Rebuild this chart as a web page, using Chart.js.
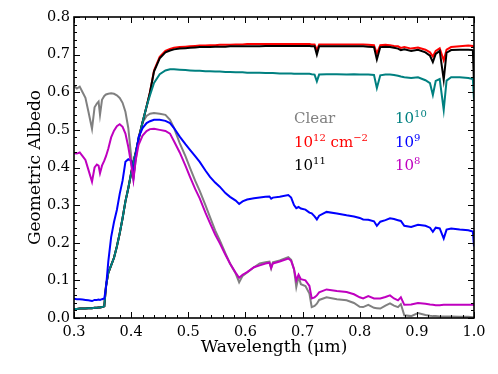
<!DOCTYPE html>
<html>
<head>
<meta charset="utf-8">
<script src="https://cdn.jsdelivr.net/npm/chart.js@4.4.1/dist/chart.umd.min.js"></script>
<style>
  html, body { margin: 0; padding: 0; background: #fff; }
</style>
</head>
<body>
<canvas id="albedoChart" width="498" height="374"></canvas>
<script>
// wavelength grid (micron), shared by all curves
const wavelength = [
  0.300, 0.305, 0.310, 0.315, 0.320, 0.325, 0.3315, 0.336, 0.340, 0.343,
  0.3455, 0.349, 0.353, 0.356, 0.360, 0.365, 0.370, 0.375, 0.380, 0.385,
  0.390, 0.395, 0.400, 0.404, 0.408, 0.413, 0.420, 0.427, 0.433, 0.440,
  0.450, 0.460, 0.468, 0.475, 0.485, 0.495, 0.503, 0.512, 0.520, 0.530,
  0.538, 0.547, 0.555, 0.565, 0.573, 0.583, 0.589, 0.595, 0.603, 0.615,
  0.625, 0.635, 0.642, 0.645, 0.648, 0.660, 0.675, 0.680, 0.685, 0.689,
  0.693, 0.697, 0.705, 0.712, 0.716, 0.721, 0.725, 0.729, 0.742, 0.760,
  0.777, 0.790, 0.800, 0.806, 0.815, 0.825, 0.830, 0.836, 0.845, 0.853,
  0.860, 0.867, 0.872, 0.878, 0.890, 0.902, 0.915, 0.923, 0.928, 0.933,
  0.940, 0.947, 0.952, 0.960, 0.975, 0.990, 0.998, 1.000
];

const albedoClear = [
  0.617, 0.610, 0.615, 0.600, 0.585, 0.550, 0.503, 0.560, 0.570, 0.575,
  0.540, 0.580, 0.590, 0.594, 0.596, 0.597, 0.596, 0.592, 0.585, 0.572,
  0.548, 0.505, 0.430, 0.372, 0.420, 0.480, 0.520, 0.537, 0.543, 0.545,
  0.543, 0.540, 0.527, 0.505, 0.465, 0.430, 0.399, 0.365, 0.338, 0.300,
  0.268, 0.233, 0.207, 0.172, 0.145, 0.118, 0.095, 0.112, 0.121, 0.135,
  0.145, 0.148, 0.150, 0.132, 0.148, 0.153, 0.162, 0.155, 0.130, 0.082,
  0.110, 0.090, 0.085, 0.065, 0.029, 0.032, 0.038, 0.048, 0.055, 0.050,
  0.047, 0.040, 0.030, 0.029, 0.035, 0.027, 0.026, 0.025, 0.033, 0.039,
  0.033, 0.029, 0.037, 0.007, 0.005, 0.013, 0.008, 0.006, 0.005, 0.005,
  0.004, 0.004, 0.004, 0.004, 0.003, 0.003, 0.002, 0.002
];

const albedo1e12 = [
  0.024, 0.024, 0.025, 0.025, 0.025, 0.026, 0.026, 0.027, 0.027, 0.028,
  0.028, 0.029, 0.031, 0.085, 0.120, 0.140, 0.160, 0.190, 0.225, 0.265,
  0.310, 0.345, 0.385, 0.415, 0.440, 0.475, 0.520, 0.562, 0.600, 0.658,
  0.694, 0.710, 0.715, 0.718, 0.720, 0.721, 0.722, 0.723, 0.724, 0.724,
  0.725, 0.725, 0.726, 0.726, 0.726, 0.727, 0.727, 0.727, 0.728, 0.728,
  0.728, 0.728, 0.728, 0.728, 0.728, 0.728, 0.728, 0.728, 0.728, 0.728,
  0.728, 0.728, 0.728, 0.728, 0.727, 0.727, 0.712, 0.727, 0.727, 0.727,
  0.727, 0.727, 0.727, 0.727, 0.726, 0.725, 0.703, 0.725, 0.726, 0.725,
  0.723, 0.722, 0.718, 0.720, 0.716, 0.719, 0.713, 0.706, 0.695, 0.710,
  0.717, 0.685, 0.713, 0.720, 0.722, 0.724, 0.723, 0.720
];

const albedo1e11 = [
  0.024, 0.024, 0.025, 0.025, 0.025, 0.026, 0.026, 0.027, 0.027, 0.028,
  0.028, 0.029, 0.031, 0.085, 0.120, 0.140, 0.160, 0.190, 0.225, 0.265,
  0.310, 0.345, 0.385, 0.415, 0.440, 0.475, 0.520, 0.562, 0.600, 0.655,
  0.690, 0.706, 0.711, 0.714, 0.716, 0.717, 0.718, 0.719, 0.720, 0.720,
  0.720, 0.721, 0.721, 0.721, 0.722, 0.722, 0.722, 0.722, 0.722, 0.722,
  0.722, 0.723, 0.723, 0.723, 0.723, 0.723, 0.723, 0.723, 0.723, 0.723,
  0.723, 0.723, 0.723, 0.723, 0.722, 0.722, 0.700, 0.722, 0.722, 0.722,
  0.722, 0.722, 0.722, 0.722, 0.721, 0.720, 0.687, 0.720, 0.721, 0.720,
  0.718, 0.716, 0.712, 0.714, 0.710, 0.713, 0.706, 0.697, 0.680, 0.702,
  0.710, 0.633, 0.705, 0.712, 0.713, 0.713, 0.712, 0.620
];

const albedo1e10 = [
  0.024, 0.024, 0.025, 0.025, 0.025, 0.026, 0.026, 0.027, 0.027, 0.028,
  0.028, 0.029, 0.031, 0.085, 0.120, 0.140, 0.160, 0.190, 0.225, 0.265,
  0.310, 0.345, 0.385, 0.415, 0.440, 0.475, 0.520, 0.562, 0.592, 0.625,
  0.648, 0.658, 0.661, 0.661, 0.660, 0.659, 0.658, 0.657, 0.657, 0.656,
  0.656, 0.655, 0.655, 0.654, 0.654, 0.653, 0.653, 0.653, 0.652, 0.652,
  0.652, 0.651, 0.651, 0.651, 0.651, 0.650, 0.650, 0.650, 0.649, 0.649,
  0.649, 0.649, 0.649, 0.649, 0.648, 0.647, 0.629, 0.647, 0.648, 0.648,
  0.647, 0.648, 0.647, 0.647, 0.647, 0.646, 0.611, 0.645, 0.647, 0.647,
  0.646, 0.644, 0.642, 0.640, 0.638, 0.640, 0.632, 0.624, 0.593, 0.630,
  0.635, 0.553, 0.631, 0.640, 0.640, 0.638, 0.635, 0.580
];

const albedo1e9 = [
  0.051, 0.050, 0.050, 0.049, 0.048, 0.047, 0.045, 0.048, 0.048, 0.049,
  0.048, 0.050, 0.052, 0.080, 0.150, 0.215, 0.255, 0.287, 0.330, 0.365,
  0.415, 0.422, 0.418, 0.375, 0.430, 0.480, 0.505, 0.518, 0.523, 0.527,
  0.527, 0.524, 0.518, 0.505, 0.482, 0.462, 0.447, 0.430, 0.415, 0.392,
  0.375, 0.360, 0.349, 0.332, 0.322, 0.312, 0.303, 0.310, 0.315, 0.318,
  0.320, 0.322, 0.323, 0.317, 0.320, 0.322, 0.327, 0.320, 0.300, 0.292,
  0.295, 0.291, 0.288, 0.280, 0.278, 0.270, 0.262, 0.272, 0.282, 0.278,
  0.273, 0.270, 0.266, 0.262, 0.261, 0.257, 0.245, 0.256, 0.260, 0.265,
  0.263, 0.260, 0.258, 0.245, 0.242, 0.248, 0.245, 0.240, 0.229, 0.240,
  0.238, 0.211, 0.235, 0.238, 0.235, 0.233, 0.230, 0.190
];

const albedo1e8 = [
  0.438, 0.437, 0.440, 0.430, 0.420, 0.395, 0.362, 0.400, 0.408, 0.405,
  0.385, 0.405, 0.418, 0.430, 0.450, 0.480, 0.498, 0.510, 0.515, 0.508,
  0.490, 0.455, 0.410, 0.367, 0.420, 0.460, 0.485, 0.497, 0.502, 0.503,
  0.500, 0.497, 0.490, 0.470, 0.440, 0.405, 0.375, 0.343, 0.318, 0.280,
  0.252, 0.222, 0.199, 0.168, 0.145, 0.120, 0.107, 0.115, 0.122, 0.135,
  0.140, 0.145, 0.147, 0.133, 0.145, 0.150, 0.158, 0.152, 0.130, 0.100,
  0.115, 0.103, 0.100, 0.085, 0.052, 0.055, 0.060, 0.068, 0.076, 0.072,
  0.069, 0.063, 0.055, 0.052, 0.058, 0.052, 0.052, 0.052, 0.056, 0.060,
  0.052, 0.047, 0.055, 0.035, 0.036, 0.040, 0.038, 0.036, 0.035, 0.034,
  0.034, 0.035, 0.035, 0.035, 0.035, 0.035, 0.035, 0.034
];

const xTickValues = [0.3, 0.4, 0.5, 0.6, 0.7, 0.8, 0.9, 1.0];
const yTickValues = [0.0, 0.1, 0.2, 0.3, 0.4, 0.5, 0.6, 0.7, 0.8];

const SERIF = '"DejaVu Serif", serif';

function toPoints(values) {
  return values.map((v, i) => ({ x: wavelength[i], y: v }));
}

function line(label, values, color) {
  return {
    label: label,
    data: toPoints(values),
    borderColor: color,
    borderWidth: 2,
    pointRadius: 0,
    tension: 0,
    fill: false
  };
}

// inward major/minor ticks on all four sides plus the frame
const frameTicks = {
  id: 'frameTicks',
  afterDraw(chart) {
    const { ctx, chartArea: a, scales: { x, y } } = chart;
    ctx.save();
    ctx.strokeStyle = '#000';
    ctx.lineWidth = 1;
    ctx.beginPath();
    for (let i = 0; i <= 35; i++) {
      const px = Math.round(x.getPixelForValue(0.3 + i * 0.02)) + 0.5;
      const len = i % 5 === 0 ? 6 : 3;
      ctx.moveTo(px, a.bottom); ctx.lineTo(px, a.bottom - len);
      ctx.moveTo(px, a.top); ctx.lineTo(px, a.top + len);
    }
    for (let i = 0; i <= 40; i++) {
      const py = Math.round(y.getPixelForValue(i * 0.02)) + 0.5;
      const len = i % 5 === 0 ? 6 : 3;
      ctx.moveTo(a.left, py); ctx.lineTo(a.left + len, py);
      ctx.moveTo(a.right, py); ctx.lineTo(a.right - len, py);
    }
    ctx.stroke();
    ctx.lineWidth = 1.6;
    ctx.strokeRect(a.left, a.top, a.right - a.left, a.bottom - a.top);
    ctx.restore();
  }
};

// text labels for the six curves
const labelEntries = [
  { parts: [['Clear', 0]], color: '#808080', x: 294, y: 123 },
  { parts: [['10', 0], ['12', 1], [' cm', 0], ['\u22122', 1]], color: '#ff0000', x: 294, y: 147 },
  { parts: [['10', 0], ['11', 1]], color: '#000000', x: 294, y: 170 },
  { parts: [['10', 0], ['10', 1]], color: '#008080', x: 395, y: 123 },
  { parts: [['10', 0], ['9', 1]], color: '#0000ff', x: 395, y: 147 },
  { parts: [['10', 0], ['8', 1]], color: '#bf00bf', x: 395, y: 170 }
];

const curveLabels = {
  id: 'curveLabels',
  afterDraw(chart) {
    const ctx = chart.ctx;
    ctx.save();
    ctx.textBaseline = 'alphabetic';
    ctx.textAlign = 'left';
    labelEntries.forEach(e => {
      let cx = e.x;
      ctx.fillStyle = e.color;
      e.parts.forEach(([txt, sup]) => {
        ctx.font = (sup ? '10px ' : '15px ') + SERIF;
        ctx.fillText(txt, cx, sup ? e.y - 6 : e.y);
        cx += ctx.measureText(txt).width;
      });
    });
    ctx.restore();
  }
};

new Chart(document.getElementById('albedoChart'), {
  type: 'line',
  data: {
    datasets: [
      line('10^8', albedo1e8, '#bf00bf'),
      line('10^9', albedo1e9, '#0000ff'),
      line('10^10', albedo1e10, '#008080'),
      line('10^11', albedo1e11, '#000000'),
      line('10^12 cm^-2', albedo1e12, '#ff0000'),
      line('Clear', albedoClear, '#808080')
    ]
  },
  options: {
    responsive: false,
    animation: false,
    layout: { padding: { top: 17, right: 24, left: 0, bottom: 0 } },
    plugins: { legend: { display: false }, tooltip: { enabled: false } },
    scales: {
      x: {
        type: 'linear',
        min: 0.3,
        max: 1.0,
        afterBuildTicks: s => { s.ticks = xTickValues.map(v => ({ value: v })); },
        afterFit: s => { s.height = 56; },
        grid: { display: false, drawTicks: false },
        border: { display: false },
        ticks: {
          padding: 6,
          color: '#000',
          font: { family: SERIF, size: 14.5 },
          callback: v => v.toFixed(1)
        },
        title: {
          display: true,
          text: 'Wavelength (\u03bcm)',
          color: '#000',
          font: { family: SERIF, size: 17 },
          padding: { top: 0, bottom: 16 }
        }
      },
      y: {
        min: 0,
        max: 0.8,
        afterBuildTicks: s => { s.ticks = yTickValues.map(v => ({ value: v })); },
        afterFit: s => { s.width = 74; },
        grid: { display: false, drawTicks: false },
        border: { display: false },
        ticks: {
          padding: 4,
          color: '#000',
          font: { family: SERIF, size: 14.5 },
          callback: v => v.toFixed(1)
        },
        title: {
          display: true,
          text: 'Geometric Albedo',
          color: '#000',
          font: { family: SERIF, size: 17 },
          padding: { top: 25, bottom: 0 }
        }
      }
    }
  },
  plugins: [frameTicks, curveLabels]
});
</script>
</body>
</html>
